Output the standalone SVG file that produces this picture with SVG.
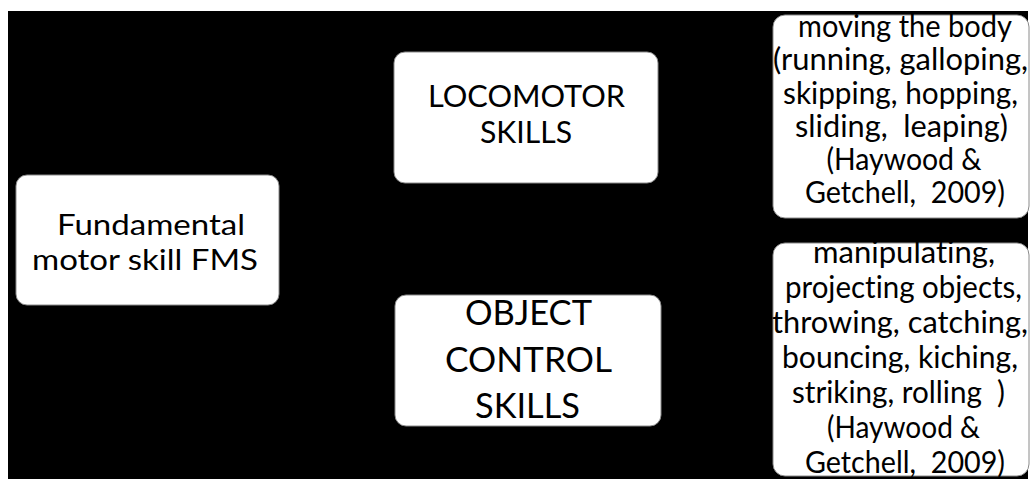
<svg xmlns="http://www.w3.org/2000/svg" width="1030" height="479" viewBox="0 0 1030 479">
<style>
.box{fill:#fff;stroke:#8a8a8a;stroke-width:1}
text{font-family:Lato,"Open Sans","Liberation Sans",sans-serif;fill:#000;text-anchor:middle;font-variant-ligatures:none;font-feature-settings:"liga" 0,"clig" 0}
.r{font-size:30px}
.l{font-size:28px}
.m{font-size:30px}
.o{font-size:35px}
</style>
<rect x="0" y="0" width="1030" height="479" fill="#fff"/>
<rect x="8" y="11" width="1020" height="468" fill="#000"/>
<g id="connectors"></g>
<g id="fms">
<rect class="box" x="16" y="175" width="263" height="130" rx="11"/>
<text class="l" x="151" y="235" textLength="188" lengthAdjust="spacingAndGlyphs">Fundamental</text>
<text class="l" x="145" y="270" textLength="226" lengthAdjust="spacingAndGlyphs">motor skill FMS</text>
</g>
<g id="locomotor">
<rect class="box" x="394" y="52" width="264" height="131" rx="11"/>
<text class="m" x="526.5" y="107" textLength="197" lengthAdjust="spacingAndGlyphs">LOCOMOTOR</text>
<text class="m" x="526" y="143" textLength="92" lengthAdjust="spacingAndGlyphs">SKILLS</text>
</g>
<g id="object-control">
<rect class="box" x="395" y="295" width="266" height="131" rx="11"/>
<text class="o" x="528.5" y="325" textLength="127" lengthAdjust="spacingAndGlyphs">OBJECT</text>
<text class="o" x="528.5" y="372" textLength="167" lengthAdjust="spacingAndGlyphs">CONTROL</text>
<text class="o" x="527.5" y="418" textLength="105" lengthAdjust="spacingAndGlyphs">SKILLS</text>
</g>
<g id="locomotor-desc">
<rect class="box" x="773" y="15" width="256" height="203" rx="12"/>
<text class="r" x="905" y="37" textLength="214" lengthAdjust="spacingAndGlyphs">moving the body</text>
<text class="r" x="900.5" y="70" textLength="255" lengthAdjust="spacingAndGlyphs">(running, galloping,</text>
<text class="r" x="900.5" y="103.5" textLength="235" lengthAdjust="spacingAndGlyphs">skipping, hopping,</text>
<text class="r" x="901.5" y="137" textLength="213" lengthAdjust="spacingAndGlyphs" xml:space="preserve">sliding,  leaping)</text>
<text class="r" x="904" y="170" textLength="155" lengthAdjust="spacingAndGlyphs">(Haywood &amp;</text>
<text class="r" x="905" y="203" textLength="200" lengthAdjust="spacingAndGlyphs" xml:space="preserve">Getchell,  2009)</text>
</g>
<g id="object-desc">
<rect class="box" x="773" y="243" width="256" height="233" rx="12"/>
<text class="r" x="904" y="263" textLength="182" lengthAdjust="spacingAndGlyphs">manipulating,</text>
<text class="r" x="903.5" y="298" textLength="237" lengthAdjust="spacingAndGlyphs">projecting objects,</text>
<text class="r" x="900" y="333" textLength="256" lengthAdjust="spacingAndGlyphs">throwing, catching,</text>
<text class="r" x="900" y="368" textLength="236" lengthAdjust="spacingAndGlyphs">bouncing, kiching,</text>
<text class="r" x="898.5" y="403" textLength="213" lengthAdjust="spacingAndGlyphs" xml:space="preserve">striking, rolling  )</text>
<text class="r" x="903.5" y="438" textLength="153" lengthAdjust="spacingAndGlyphs">(Haywood &amp;</text>
<text class="r" x="905" y="473" textLength="200" lengthAdjust="spacingAndGlyphs" xml:space="preserve">Getchell,  2009)</text>
</g>
</svg>
